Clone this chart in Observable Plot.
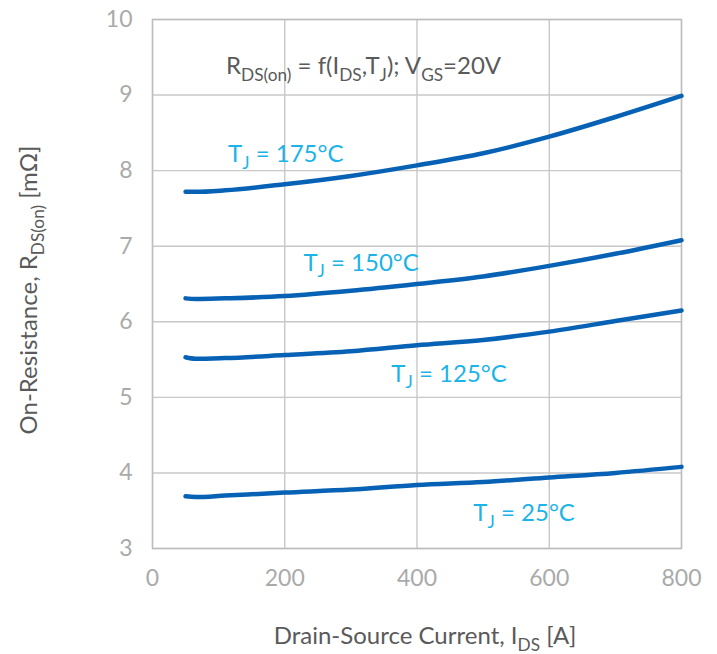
<!DOCTYPE html>
<html><head><meta charset="utf-8">
<script src="https://cdn.jsdelivr.net/npm/d3@7"></script>
<script src="https://cdn.jsdelivr.net/npm/@observablehq/plot@0.6"></script>
<style>body{margin:0;background:#fff} svg{display:block}</style>
</head><body><div id="chart"></div>
<script>
// Drain-source current [A]
const currents = [50, 65, 110, 200, 300, 400, 500, 600, 700, 800];
// On-resistance [mΩ] per junction temperature
const r25  = [3.69, 3.68, 3.70, 3.74, 3.78, 3.84, 3.88, 3.94, 4.00, 4.08];
const r125 = [5.53, 5.51, 5.52, 5.56, 5.61, 5.69, 5.76, 5.87, 6.01, 6.15];
const r150 = [6.31, 6.30, 6.31, 6.34, 6.41, 6.50, 6.60, 6.74, 6.90, 7.08];
const r175 = [7.72, 7.72, 7.74, 7.82, 7.93, 8.07, 8.23, 8.45, 8.71, 8.99];
const temps = ["25", "125", "150", "175"];
const xTicks = [0, 200, 400, 600, 800];
const yTicks = [3, 4, 5, 6, 7, 8, 9, 10];
// label anchors (data units)
const labelTemps = ["175", "150", "125", "25"];
const labelX = [115, 229, 362, 486];
const labelY = [8.11, 6.67, 5.20, 3.36];
const titleX = 112, titleY = 9.27;

const seriesVals = [r25, r125, r150, r175];
const data = temps.flatMap((t, k) => currents.map((c, i) => ({tj: t, ids: c, r: seriesVals[k][i]})));

const FONT = "Lato, 'Noto Sans', sans-serif";
const plot = Plot.plot({
  width: 717, height: 654,
  marginLeft: 152, marginRight: 36, marginTop: 19, marginBottom: 106,
  style: {fontFamily: FONT, fontSize: "23px", background: "#fff"},
  x: {domain: [0, 800]},
  y: {domain: [3, 10]},
  marks: [
    Plot.gridX(xTicks, {stroke: "#c8c8c8", strokeOpacity: 1, strokeWidth: 1.4}),
    Plot.gridY(yTicks, {stroke: "#c8c8c8", strokeOpacity: 1, strokeWidth: 1.4}),
    Plot.frame({stroke: "#bdbdbd", strokeWidth: 1.4}),
    Plot.axisX(xTicks, {tickSize: 0, tickPadding: 21, label: null, color: "#aaaaaa", fontSize: 23, tickFormat: d3.format("d")}),
    Plot.axisY(yTicks, {tickSize: 0, tickPadding: 20, label: null, color: "#aaaaaa", fontSize: 23, tickFormat: d3.format("d")}),
    Plot.line(data, {x: "ids", y: "r", z: "tj", stroke: "#0762b5", strokeWidth: 4.5, curve: "monotone-x", strokeLinecap: "round"})
  ]
});

const svg = d3.select(plot);
const xs = plot.scale("x"), ys = plot.scale("y");
function rich(x, y, parts, {size = 24, color = "#5a5a5a", rotate = null, anchor = "start"} = {}) {
  const t = svg.append("text").attr("x", x).attr("y", y)
    .attr("fill", color).attr("font-size", size).attr("font-family", FONT)
    .attr("text-anchor", anchor);
  if (rotate !== null) t.attr("transform", `rotate(${rotate},${x},${y})`);
  let shift = 0;
  for (const [s, sub] of parts) {
    const target = sub ? size * 0.28 : 0;
    t.append("tspan").attr("dy", target - shift).attr("font-size", sub ? size * 0.72 : size).text(s);
    shift = target;
  }
}
rich(xs.apply(titleX), ys.apply(titleY),
  [["R"], ["DS(on)", 1], [" = f(I"], ["DS", 1], [",T"], ["J", 1], ["); V"], ["GS", 1], ["=20V"]]);
labelTemps.forEach((t, i) => {
  rich(xs.apply(labelX[i]), ys.apply(labelY[i]), [["T"], ["J", 1], [` = ${t}°C`]], {color: "#1cb3e8"});
});
rich(425, 644, [["Drain-Source Current, I"], ["DS", 1], [" [A]"]], {anchor: "middle"});
rich(37, 290, [["On-Resistance, R"], ["DS(on)", 1], [" [mΩ]"]], {anchor: "middle", rotate: -90});

document.getElementById("chart").appendChild(plot);
</script>
</body></html>
